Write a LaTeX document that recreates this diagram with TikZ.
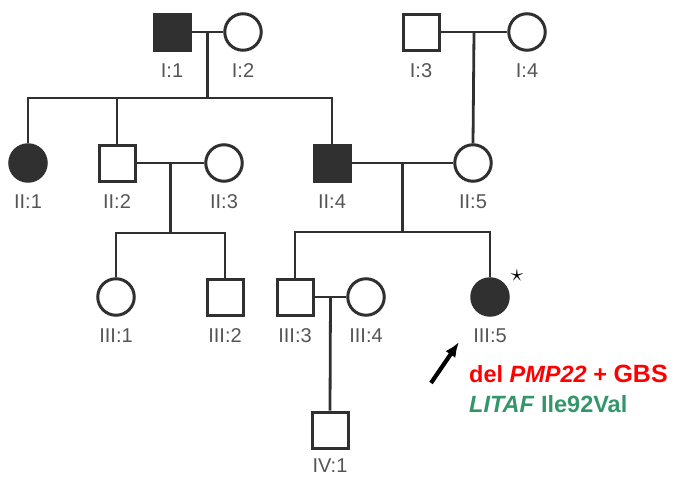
\documentclass[tikz,border=0pt]{standalone}
\usepackage{fontspec}
\setsansfont{Liberation Sans}
\usetikzlibrary{calc,arrows.meta,positioning}
\definecolor{pedline}{HTML}{303030}
\definecolor{labgray}{HTML}{555555}
\definecolor{redx}{HTML}{FF0000}
\definecolor{greenx}{HTML}{33966A}
\tikzset{
  male/.style={draw=pedline,line width=3pt,rectangle,minimum size=36pt,inner sep=0pt},
  female/.style={draw=pedline,line width=3pt,circle,minimum size=36.5pt,inner sep=0pt},
  aff/.style={fill=pedline},
  lab/.style={font=\sffamily\fontsize{20}{20}\selectfont,text=labgray,inner sep=0pt,label distance=12pt},
  id/.style={label={[lab]below:{#1}}},
  ln/.style={draw=pedline,line width=2.8pt},
  note/.style={font=\sffamily\bfseries\fontsize{23.5}{23.5}\selectfont,anchor=base west,inner sep=0pt}
}

\begin{document}
\begin{tikzpicture}[x=1pt,y=-1pt]
\useasboundingbox (0,0) rectangle (676,479);
\node[male,aff,id={I:1}] (I1) at (172,32) {};
\node[female,id={I:2}] (I2) at (243,32) {};
\node[male,id={I:3}] (I3) at (421,32) {};
\node[female,id={I:4}] (I4) at (527,32) {};
\node[female,aff,id={II:1}] (II1) at (28,163) {};
\node[male,id={II:2}] (II2) at (117,163) {};
\node[female,id={II:3}] (II3) at (224,163) {};
\node[male,aff,id={II:4}] (II4) at (332,163) {};
\node[female,id={II:5}] (II5) at (473,163) {};
\node[female,id={III:1}] (III1) at (116,297) {};
\node[male,id={III:2}] (III2) at (225,297) {};
\node[male,id={III:3}] (III3) at (295,297) {};
\node[female,id={III:4}] (III4) at (366,297) {};
\node[female,aff,id={III:5}] (III5) at (490,297) {};
\node[male,label={[lab,label distance=9pt]below:{IV:1}}] (IV1) at (330,430) {};
\node[font=\fontsize{28}{28}\selectfont,inner sep=0pt] (star) at (517,276) {$\star$};

\coordinate (m1) at ($(I1)!0.5!(I2)$);
\coordinate (m2) at ($(I3)!0.5!(I4)$);
\coordinate (m3) at ($(II2)!0.5!(II3)$);
\coordinate (m4) at ($(II4)!0.5!(II5)$);
\coordinate (m5) at ($(III3)!0.5!(III4)$);
\coordinate (s1) at (m1 |- 0,98);
\coordinate (s3) at (m3 |- 0,233);
\coordinate (s4) at (m4 |- 0,232);

\draw[ln] (I1) -- (I2);
\draw[ln] (I3) -- (I4);
\draw[ln] (II2) -- (II3);
\draw[ln] (II4) -- (II5);
\draw[ln] (III3) -- (III4);
\draw[ln] (m1) -- (s1);
\draw[ln] (II1.north) |- (s1) -| (II4.north);
\draw[ln] (II2.north) -- (II2.north |- s1);
\draw[ln] (m2) -- (II5.north);
\draw[ln] (m3) -- (s3);
\draw[ln] (III1.north) |- (s3) -| (III2.north);
\draw[ln] (m4) -- (s4);
\draw[ln] (III3.north) |- (s4) -| (III5.north);
\draw[ln] (m5) -- (IV1.north);

\coordinate (ptail) at (431,383);
\coordinate (phead) at (459,342);
\draw[line width=4.2pt,black,-{Latex[length=15pt,width=12pt]}] (ptail) -- (phead);

\node[note,text=redx] (gene) at (469,382) {del \textit{PMP22} + {\fontsize{25}{25}\selectfont GBS}};
\node[note,text=greenx] (litaf) at (469,412) {\textit{LITAF} Ile92Val};
\end{tikzpicture}
\end{document}
